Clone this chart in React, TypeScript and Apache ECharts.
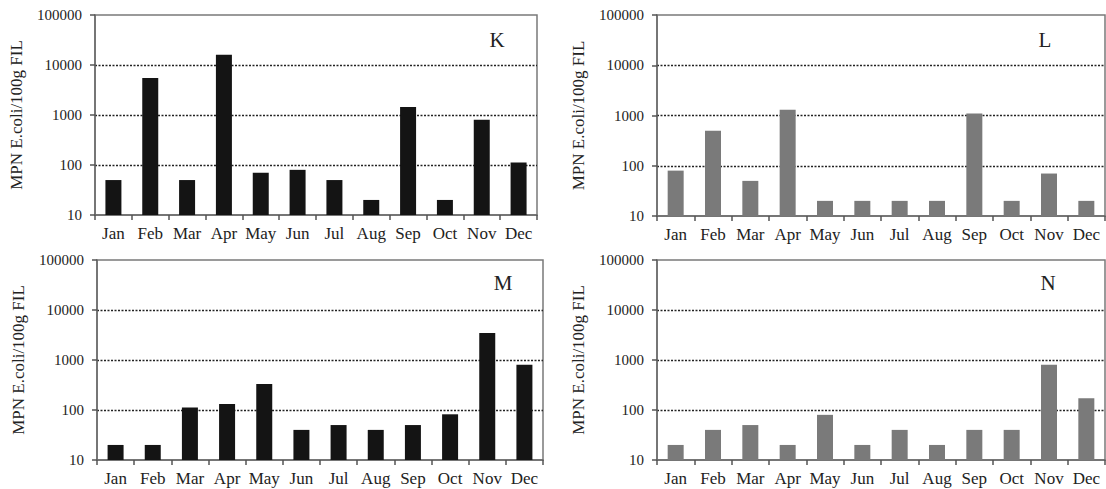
import React, { useEffect, useRef } from "react";
import * as echarts from "echarts";

const months = ["Jan", "Feb", "Mar", "Apr", "May", "Jun", "Jul", "Aug", "Sep", "Oct", "Nov", "Dec"];
const yTicks = [10, 100, 1000, 10000, 100000];
const panelNames = ["K", "L", "M", "N"];
const valuesK = [50, 5500, 50, 16000, 70, 80, 50, 20, 1450, 20, 800, 112];
const valuesL = [80, 500, 50, 1300, 20, 20, 20, 20, 1100, 20, 70, 20];
const valuesM = [20, 20, 112, 132, 330, 40, 50, 40, 50, 82, 3450, 800];
const valuesN = [20, 40, 50, 20, 80, 20, 40, 20, 40, 40, 800, 172];
const panelValues = [valuesK, valuesL, valuesM, valuesN];
const panelColors = ["#141414", "#7a7a7a", "#141414", "#7a7a7a"];

const grids = [
  { left: 95, top: 15, width: 442, height: 200 },
  { left: 657, top: 15, width: 448, height: 201 },
  { left: 97, top: 260, width: 446, height: 200 },
  { left: 657, top: 260, width: 448, height: 200 },
];
const letterPos = [
  { x: 497, y: 40 },
  { x: 1045, y: 40 },
  { x: 503, y: 283 },
  { x: 1048, y: 283 },
];

const FONT = "'Liberation Serif', 'Times New Roman', serif";

export default function App() {
  const ref = useRef<HTMLDivElement>(null);
  useEffect(() => {
    if (!ref.current) return;
    const chart = echarts.init(ref.current, undefined, { renderer: "svg" });
    const option: any = {
      animation: false,
      backgroundColor: "#ffffff",
      grid: grids.map((g) => ({
        ...g,
        show: true,
        borderColor: "#7a7a7a",
        borderWidth: 1.5,
        backgroundColor: "transparent",
      })),
      xAxis: grids.map((_, i) => ({
        type: "category",
        gridIndex: i,
        data: months,
        boundaryGap: true,
        axisLine: { lineStyle: { color: "#6a6a6a", width: 1.5 } },
        axisTick: { show: true, inside: false, length: 5, interval: 0, alignWithLabel: false, lineStyle: { color: "#555", width: 1.5 } },
        axisLabel: { fontFamily: FONT, fontSize: 17, color: "#222", margin: 10, interval: 0 },
        splitLine: { show: false },
      })),
      yAxis: grids.map((_, i) => ({
        type: "log",
        logBase: 10,
        gridIndex: i,
        min: yTicks[0],
        max: yTicks[yTicks.length - 1],
        name: "MPN E.coli/100g FIL",
        nameLocation: "middle",
        nameGap: 70,
        nameRotate: 90,
        nameTextStyle: { fontFamily: FONT, fontSize: 17, color: "#222" },
        axisLine: { show: true, lineStyle: { color: "#6a6a6a", width: 1.5 } },
        axisTick: { show: true, inside: false, length: 5, lineStyle: { color: "#555", width: 1.5 } },
        axisLabel: {
          fontFamily: FONT,
          fontSize: 15,
          color: "#222",
          margin: 13,
          formatter: (v: number) => String(Math.round(v)),
        },
        splitLine: {
          show: true,
          showMinLine: false,
          showMaxLine: false,
          lineStyle: { color: "#222", width: 1.4, type: [2, 1.5] },
        },
      })),
      series: panelValues.map((vals, i) => ({
        type: "bar",
        xAxisIndex: i,
        yAxisIndex: i,
        data: vals,
        barWidth: 16,
        itemStyle: { color: panelColors[i] },
      })),
      graphic: panelNames.map((n, i) => ({
        type: "text",
        x: letterPos[i].x,
        y: letterPos[i].y,
        style: {
          text: n,
          fontFamily: FONT,
          fontSize: 21,
          fill: "#222",
          align: "center",
          verticalAlign: "middle",
        },
      })),
    };
    chart.setOption(option);
    return () => chart.dispose();
  }, []);
  return <div ref={ref} style={{ position: "fixed", left: 0, top: 0, width: 1106, height: 489 }} />;
}
